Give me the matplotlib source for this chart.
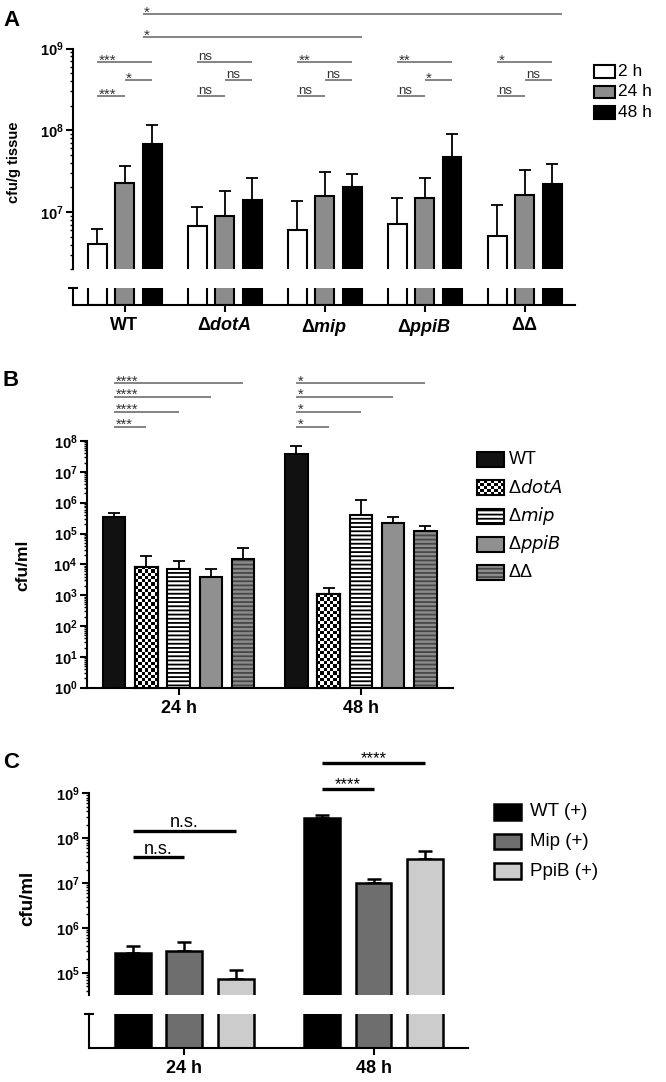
import numpy as np
import matplotlib
matplotlib.use("Agg")
import matplotlib.pyplot as plt
from matplotlib.patches import Rectangle
from matplotlib.ticker import FixedLocator, LogLocator, NullFormatter
from matplotlib.transforms import blended_transform_factory

plt.rcParams["font.family"] = ["Liberation Sans", "DejaVu Sans"]
plt.rcParams["mathtext.fontset"] = "custom"
plt.rcParams["mathtext.rm"] = "Liberation Sans"
plt.rcParams["mathtext.it"] = "Liberation Sans Narrow:italic"
plt.rcParams["mathtext.bf"] = "Liberation Sans:bold"
plt.rcParams["mathtext.bfit"] = "Liberation Sans:bold:italic"
plt.rcParams["hatch.linewidth"] = 1.3
plt.rcParams["axes.linewidth"] = 1.5

W, H = 666, 1082
NARROW = ["Liberation Sans Narrow", "Liberation Sans", "DejaVu Sans"]

# ---------- data ----------
# A: cfu/g tissue (bar = mean, *_top = end of error bar)
a_strains = ["WT", r"Δ$\mathbfit{dotA}$", r"Δ$\mathbfit{mip}$", r"Δ$\mathbfit{ppiB}$", "ΔΔ"]
a_times = ["2 h", "24 h", "48 h"]
a_colors = ["white", "#8c8c8c", "black"]
a_2h = [4.1e6, 6.7e6, 6.0e6, 7.1e6, 5.1e6]
a_24h = [2.3e7, 8.9e6, 1.59e7, 1.5e7, 1.6e7]
a_48h = [6.8e7, 1.39e7, 2.03e7, 4.7e7, 2.2e7]
a_2h_top = [6.2e6, 1.15e7, 1.36e7, 1.5e7, 1.23e7]
a_24h_top = [3.7e7, 1.8e7, 3.1e7, 2.6e7, 3.3e7]
a_48h_top = [1.16e8, 2.64e7, 2.9e7, 9.0e7, 3.9e7]
a_sig_2v48 = ["***", "ns", "**", "**", "*"]
a_sig_24v48 = ["*", "ns", "ns", "*", "ns"]
a_sig_2v24 = ["***", "ns", "ns", "ns", "ns"]
a_sig_wt48 = [(2, "*"), (4, "*")]   # WT 48 h vs strain index 48 h

# B: cfu/ml
b_times = ["24 h", "48 h"]
b_strains = ["WT", r"Δ$\mathit{dotA}$", r"Δ$\mathit{mip}$", r"Δ$\mathit{ppiB}$", "ΔΔ"]
b_24h = [3.4e5, 8.4e3, 7.3e3, 3.8e3, 1.5e4]
b_48h = [3.7e7, 1.07e3, 4.0e5, 2.2e5, 1.2e5]
b_24h_top = [4.5e5, 1.9e4, 1.3e4, 6.9e3, 3.3e4]
b_48h_top = [6.9e7, 1.7e3, 1.2e6, 3.5e5, 1.8e5]
b_sig_24h = ["***", "****", "****", "****"]  # WT vs dotA, mip, ppiB, ΔΔ
b_sig_48h = ["*", "*", "*", "*"]

# C: cfu/ml complemented strains
c_times = ["24 h", "48 h"]
c_strains = ["WT (+)", "Mip (+)", "PpiB (+)"]
c_colors = ["black", "#6e6e6e", "#cccccc"]
c_wt = [2.8e5, 2.8e8]
c_mip = [3.0e5, 9.8e6]
c_ppib = [7.2e4, 3.5e7]
c_wt_top = [4.0e5, 3.3e8]
c_mip_top = [4.8e5, 1.2e7]
c_ppib_top = [1.15e5, 5.2e7]
c_sig_24h = ["n.s.", "n.s."]   # WT vs Mip, WT vs PpiB
c_sig_48h = ["****", "****"]

fig = plt.figure(figsize=(W / 100, H / 100), dpi=100)


def add_px(x0, y0, x1, y1):
    return fig.add_axes([x0 / W, 1 - y1 / H, (x1 - x0) / W, (y1 - y0) / H])


def fig_text(x, y, s, **kw):
    fig.text(x / W, 1 - y / H, s, **kw)


def legend_box(x0, y0, x1, y1, **kw):
    r = Rectangle((x0 / W, 1 - y1 / H), (x1 - x0) / W, (y1 - y0) / H,
                  transform=fig.transFigure, **kw)
    fig.patches.append(r)


def log_yaxis(ax, lo, hi, decades, fs=10):
    ax.set_yscale("log")
    ax.set_ylim(lo, hi)
    ax.yaxis.set_major_locator(FixedLocator([10.0 ** d for d in decades]))
    ax.set_yticklabels([r"$\mathbf{10^{%d}}$" % d for d in decades], fontsize=fs)
    ax.yaxis.set_minor_locator(LogLocator(base=10, subs=np.arange(2, 10), numticks=100))
    ax.yaxis.set_minor_formatter(NullFormatter())
    ax.tick_params(axis="y", which="major", length=5, width=1.5, pad=2)
    ax.tick_params(axis="y", which="minor", length=2.5, width=1)
    for s in ["top", "right"]:
        ax.spines[s].set_visible(False)


def sig(ax, x0, x1, yf, label, ha="left", color="#7a7a7a", tc="#333333",
        lw=1.3, fs=None, dy=None):
    tr = blended_transform_factory(ax.transData, ax.transAxes)
    ax.plot([x0, x1], [yf, yf], transform=tr, color=color, lw=lw,
            clip_on=False, solid_capstyle="butt")
    star = "*" in label
    if fs is None:
        fs = 11 if star else 9.5
    if dy is None:
        dy = -2.0 if star else 1.2
    xt = x0 if ha == "left" else (x0 + x1) / 2
    ax.annotate(label, xy=(xt, yf), xycoords=tr, xytext=(1 if ha == "left" else 0, dy),
                textcoords="offset points", ha=ha, va="baseline", fontsize=fs,
                color=tc, annotation_clip=False)


def errbars(ax, x, vals, tops, lw=1.3, cap=4):
    vals = np.asarray(vals)
    ax.errorbar(x, vals, yerr=[np.zeros_like(vals), np.asarray(tops) - vals],
                fmt="none", ecolor="black", elinewidth=lw, capsize=cap,
                capthick=lw, zorder=1)


def stub_axis(ax):
    ax.set_ylim(0, 1)
    ax.set_yticks([1])
    ax.set_yticklabels([])
    ax.tick_params(axis="y", length=7, width=1.5, direction="inout")
    for s in ["top", "right"]:
        ax.spines[s].set_visible(False)
    ax.tick_params(axis="x", length=5, width=1.5)


# ================= Panel A =================
axA = add_px(73.2, 48.5, 574.5, 269.3)
axA_lo = add_px(73.2, 288, 574.5, 305)
a_off = [-0.275, 0.0, 0.275]
a_w = 0.19
xa = np.arange(len(a_strains))
for j, (vals, tops) in enumerate(zip([a_2h, a_24h, a_48h], [a_2h_top, a_24h_top, a_48h_top])):
    axA.bar(xa + a_off[j], vals, a_w, color=a_colors[j], edgecolor="black", lw=1.5, zorder=2)
    errbars(axA, xa + a_off[j], vals, tops)
    axA_lo.bar(xa + a_off[j], 5, a_w, color=a_colors[j], edgecolor="black", lw=1.5)
for ax in (axA, axA_lo):
    ax.set_xlim(-0.513, 4.5)
log_yaxis(axA, 2e6, 1e9, [7, 8, 9], fs=10.5)
axA.spines["bottom"].set_visible(False)
axA.set_xticks([])
stub_axis(axA_lo)
axA_lo.set_xticks(xa)
axA_lo.set_xticklabels(a_strains, fontsize=13, fontweight="bold")

for g in range(len(a_strains)):
    sig(axA, g + a_off[0], g + a_off[2], 0.939, a_sig_2v48[g])
    sig(axA, g + a_off[1], g + a_off[2], 0.857, a_sig_24v48[g])
    sig(axA, g + a_off[0], g + a_off[1], 0.785, a_sig_2v24[g])
for k, (target, lab) in enumerate(a_sig_wt48):
    sig(axA, a_off[2] - a_w / 2, target + a_off[2] + a_w / 2, [1.052, 1.156][k], lab)

fig_text(14, 162, "cfu/g tissue", rotation=90, ha="center", va="center",
         fontsize=10.5, fontweight="bold")
fig_text(3, 20, "A", fontsize=16, fontweight="bold", va="center")
for i, lab in enumerate(a_times):
    y0 = 65 + i * 20.5
    legend_box(593.6, y0, 615, y0 + 12.5, facecolor=a_colors[i], edgecolor="black", lw=1.5)
    fig_text(618, y0 + 6.5, lab, fontsize=12.5, family=NARROW, va="center")

# ================= Panel B =================
axB = add_px(87.2, 441, 453, 687.7)
b_off = np.array([-2, -1, 0, 1, 2]) * 0.177
b_w = 0.123
xb = np.arange(len(b_times))
b_vals = np.array([b_24h, b_48h]).T
b_tops = np.array([b_24h_top, b_48h_top]).T
b_fill = ["#111111", "white", "white", "#909090", "#8c8c8c"]
b_hatch = [None, None, "----", None, "----"]
b_hcol = ["black", "black", "black", "black", "#474747"]
for i in range(len(b_strains)):
    axB.bar(xb + b_off[i], b_vals[i], b_w, color=b_fill[i], edgecolor=b_hcol[i],
            hatch=b_hatch[i], lw=0, zorder=2)
    axB.bar(xb + b_off[i], b_vals[i], b_w, fill=False, edgecolor="black", lw=1.5, zorder=3)
    errbars(axB, xb + b_off[i], b_vals[i], b_tops[i])
axB.set_xlim(-0.502, 1.505)
log_yaxis(axB, 1, 1e8, list(range(0, 9)), fs=10.5)
axB.set_xticks(xb)
axB.set_xticklabels(b_times, fontsize=13, fontweight="bold", family=NARROW)
axB.tick_params(axis="x", length=5, width=1.5)

b_levels = [1.058, 1.119, 1.180, 1.234]
for k, lab in enumerate(b_sig_24h):
    sig(axB, 0 + b_off[0], 0 + b_off[k + 1], b_levels[k], lab, fs=10.5, dy=-1.8)
for k, lab in enumerate(b_sig_48h):
    sig(axB, 1 + b_off[0], 1 + b_off[k + 1], b_levels[k], lab, fs=10.5, dy=-1.8)


def checker_axes(rect_fig, w_px, h_px, cell=3.3):
    ia = fig.add_axes(rect_fig)
    nr = max(1, int(round(h_px / cell)))
    nc = max(1, int(round(w_px / cell)))
    board = np.add.outer(np.arange(nr), np.arange(nc)) % 2
    ia.imshow(board, cmap="gray", aspect="auto", interpolation="nearest")
    ia.set_xticks([])
    ia.set_yticks([])
    for s in ia.spines.values():
        s.set_linewidth(1.5)
    return ia


# checkerboard fill for the dotA bars, placed through the axes transform
inv = fig.transFigure.inverted()
for t in range(len(b_times)):
    x0 = xb[t] + b_off[1] - b_w / 2
    x1 = xb[t] + b_off[1] + b_w / 2
    p0 = axB.transData.transform((x0, 1))
    p1 = axB.transData.transform((x1, b_vals[1][t]))
    f0, f1 = inv.transform(p0), inv.transform(p1)
    checker_axes([f0[0], f0[1], f1[0] - f0[0], f1[1] - f0[1]], p1[0] - p0[0], p1[1] - p0[1])

fig_text(23, 565, "cfu/ml", rotation=90, ha="center", va="center",
         fontsize=12.5, fontweight="bold")
fig_text(3, 381, "B", fontsize=16, fontweight="bold", va="center")
for i, lab in enumerate(b_strains):
    y0 = 452 + i * 28.3
    if i == 1:
        checker_axes([476.6 / W, 1 - (y0 + 15) / H, 27.7 / W, 15 / H], 27.7, 15)
    else:
        legend_box(476.6, y0, 504.3, y0 + 15, facecolor=b_fill[i], edgecolor=b_hcol[i],
                   hatch=b_hatch[i], lw=0)
        legend_box(476.6, y0, 504.3, y0 + 15, fill=False, edgecolor="black", lw=1.5)
    fig_text(508.5, y0 + 7.5, lab, fontsize=13, family=NARROW, va="center")

# ================= Panel C =================
axC = add_px(89.4, 793.3, 468, 995)
axC_lo = add_px(89.4, 1014.3, 468, 1048.3)
c_off = [-0.272, 0.0, 0.272]
c_w = 0.188
xc = np.arange(len(c_times))
for j, (vals, tops) in enumerate(zip([c_wt, c_mip, c_ppib], [c_wt_top, c_mip_top, c_ppib_top])):
    axC.bar(xc + c_off[j], vals, c_w, color=c_colors[j], edgecolor="black", lw=1.8, zorder=2)
    errbars(axC, xc + c_off[j], vals, tops, lw=1.8, cap=5)
    axC_lo.bar(xc + c_off[j], 5, c_w, color=c_colors[j], edgecolor="black", lw=1.8)
for ax in (axC, axC_lo):
    ax.set_xlim(-0.501, 1.499)
log_yaxis(axC, 3.2e4, 1e9, [5, 6, 7, 8, 9], fs=10.5)
axC.spines["bottom"].set_visible(False)
axC.set_xticks([])
stub_axis(axC_lo)
axC_lo.set_xticks(xc)
axC_lo.set_xticklabels(c_times, fontsize=13, fontweight="bold", family=NARROW)

sig(axC, c_off[0], c_off[2], 0.815, c_sig_24h[1], ha="center", color="black",
    tc="black", lw=2.4, fs=13, dy=2.5)
sig(axC, c_off[0], c_off[1], 0.683, c_sig_24h[0], ha="center", color="black",
    tc="black", lw=2.4, fs=13, dy=2.5)
sig(axC, 1 + c_off[0], 1 + c_off[2], 1.149, c_sig_48h[1], ha="center", color="black",
    tc="black", lw=2.4, fs=12, dy=0)
sig(axC, 1 + c_off[0], 1 + c_off[1], 1.020, c_sig_48h[0], ha="center", color="black",
    tc="black", lw=2.4, fs=12, dy=0)

fig_text(28, 898, "cfu/ml", rotation=90, ha="center", va="center",
         fontsize=13.5, fontweight="bold")
fig_text(3, 763, "C", fontsize=16, fontweight="bold", va="center")
for i, lab in enumerate(c_strains):
    y0 = 804 + i * 29.5
    legend_box(493.6, y0, 521.3, y0 + 15.5, facecolor=c_colors[i], edgecolor="black", lw=1.8)
    fig_text(529.8, y0 + 8, lab, fontsize=13.5, family=NARROW, va="center")

fig.savefig("out.png", dpi=100)
